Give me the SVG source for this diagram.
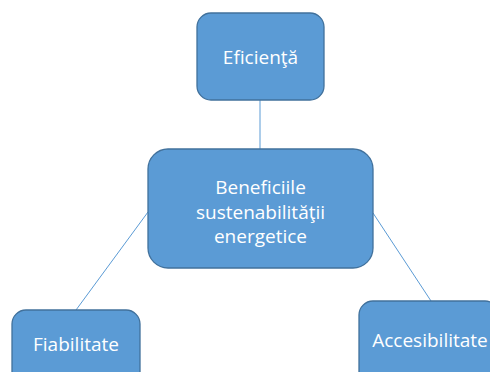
<svg xmlns="http://www.w3.org/2000/svg" width="490" height="372" viewBox="0 0 490 372">
<style>
.box{fill:#5B9BD5;stroke:#41719C;stroke-width:1.3}
.lbl{fill:#FFFFFF;font-family:"Open Sans","Liberation Sans",sans-serif;font-size:19px;text-anchor:middle}
.conn{stroke:#5B9BD5;stroke-width:1;fill:none}
</style>
<rect width="490" height="372" fill="#FFFFFF"/>
<g id="connectors">
<line class="conn" x1="260" y1="100" x2="260" y2="149"/>
<line class="conn" x1="148" y1="212" x2="76" y2="310"/>
<line class="conn" x1="373" y1="213" x2="431" y2="301"/>
</g>
<g id="node-eficienta">
<rect class="box" x="197" y="13" width="127" height="87" rx="14"/>
<text class="lbl" x="260.5" y="64">Eficienţă</text>
</g>
<g id="node-center">
<rect class="box" x="148" y="149" width="225" height="119" rx="20"/>
<text class="lbl" x="260.5" y="194">Beneficiile</text>
<text class="lbl" x="260.5" y="218.5">sustenabilităţii</text>
<text class="lbl" x="260.5" y="243">energetice</text>
</g>
<g id="node-fiabilitate">
<rect class="box" x="12" y="310" width="128" height="87" rx="14"/>
<text class="lbl" x="76" y="351">Fiabilitate</text>
</g>
<g id="node-accesibilitate">
<rect class="box" x="359" y="301" width="140" height="87" rx="14"/>
<text class="lbl" x="430" y="347">Accesibilitate</text>
</g>
</svg>
